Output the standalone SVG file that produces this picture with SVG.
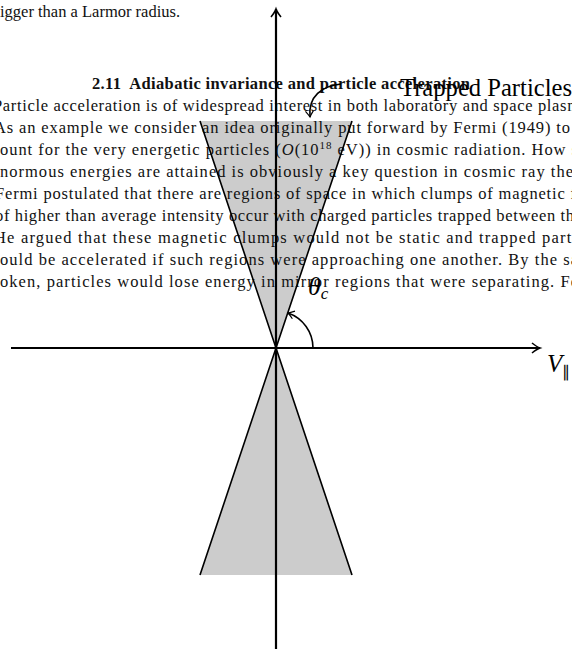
<svg xmlns="http://www.w3.org/2000/svg" width="572" height="649" viewBox="0 0 572 649">
<style>
.body{font-family:"Liberation Serif","Times New Roman",serif;font-size:16.5px;fill:#111}
.head{font-family:"Liberation Serif","Times New Roman",serif;font-size:16.5px;font-weight:bold;fill:#111}
.cone{fill:#cccccc;stroke:none}
.edge{stroke:#000;stroke-width:1.6;fill:none}
.axis{stroke:#000;stroke-width:2.2;fill:none}
.math{font-family:"Liberation Serif","Times New Roman",serif;font-style:italic;fill:#000}
.lab{font-family:"Liberation Serif","Times New Roman",serif;fill:#000}
</style>
<defs>
<marker id="ah" markerWidth="14" markerHeight="14" refX="0" refY="0" viewBox="-10 -7 12 14" orient="auto" markerUnits="userSpaceOnUse">
<path d="M-8,-5 Q-3,-1 0,0 Q-3,1 -8,5" fill="none" stroke="#000" stroke-width="1.6"/>
</marker>
<marker id="ahs" markerWidth="12" markerHeight="12" refX="0" refY="0" viewBox="-8 -6 10 12" orient="auto" markerUnits="userSpaceOnUse">
<path d="M-6,-4 Q-2,-1 0,0 Q-2,1 -6,4" fill="none" stroke="#000" stroke-width="1.2"/>
</marker>
</defs>
<g id="cones">
<polygon class="cone" points="276,348 200,121 352,121"/>
<polygon class="cone" points="276,348 200,575 352,575"/>
</g>
<g id="text">
<text class="body" x="0" y="17">igger than a Larmor radius.</text>
<text class="head" x="92" y="89" xml:space="preserve" textLength="378" lengthAdjust="spacing">2.11  Adiabatic invariance and particle acceleration</text>
<text class="body" x="-7" y="111" textLength="587" lengthAdjust="spacing">Particle acceleration is of widespread interest in both laboratory and space plasm</text>
<text class="body" x="-6" y="133" textLength="576" lengthAdjust="spacing">As an example we consider an idea originally put forward by Fermi (1949) to</text>
<text class="body" x="0" y="155" textLength="578" lengthAdjust="spacing">ount for the very energetic particles (<tspan font-style="italic">O</tspan>(10<tspan font-size="11" dy="-6">18</tspan><tspan dy="6"> eV)) in cosmic radiation. How s</tspan></text>
<text class="body" x="0" y="177" textLength="573" lengthAdjust="spacing">normous energies are attained is obviously a key question in cosmic ray the</text>
<text class="body" x="-5" y="199" textLength="581" lengthAdjust="spacing">Fermi postulated that there are regions of space in which clumps of magnetic f</text>
<text class="body" x="-5" y="221" textLength="579" lengthAdjust="spacing">of higher than average intensity occur with charged particles trapped between th</text>
<text class="body" x="-6" y="243" textLength="583" lengthAdjust="spacing">He argued that these magnetic clumps would not be static and trapped parti</text>
<text class="body" x="0" y="265" textLength="578" lengthAdjust="spacing">ould be accelerated if such regions were approaching one another. By the sa</text>
<text class="body" x="0" y="287" textLength="578" lengthAdjust="spacing">oken, particles would lose energy in mirror regions that were separating. Fe</text>
</g>
<g id="cone-edges">
<path class="edge" d="M200,121 L276,348 L352,121"/>
<path class="edge" d="M200,575 L276,348 L352,575"/>
</g>
<g id="connectors">
<line class="axis" x1="276" y1="649" x2="276" y2="9" marker-end="url(#ah)"/>
<line class="axis" x1="11" y1="348" x2="540" y2="348" marker-end="url(#ah)"/>
<path class="edge" d="M313,348 A37,37 0 0 0 288,313" marker-end="url(#ahs)" stroke-width="1.4"/>
<path class="edge" d="M341,84 C322,86 308,96 310,117" marker-end="url(#ahs)" stroke-width="1.2"/>
</g>
<g id="labels">
<text class="lab" x="400" y="96" font-size="25" textLength="172" lengthAdjust="spacingAndGlyphs">Trapped Particles</text>
<text class="math" x="308" y="295" font-size="26">θ<tspan font-size="17" dy="4">c</tspan></text>
<text class="math" x="547" y="372" font-size="25">V<tspan font-size="16" dy="5" font-style="normal">∥</tspan></text>
</g>
</svg>
